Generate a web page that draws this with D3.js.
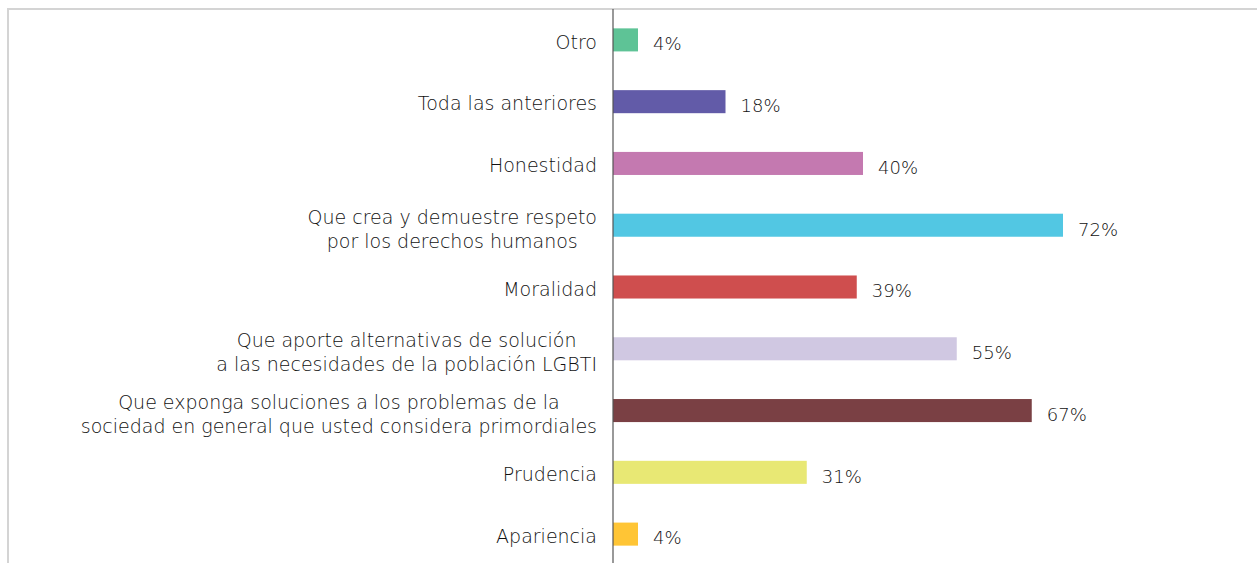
<!DOCTYPE html>
<html>
<head>
<meta charset="utf-8">
<script src="https://cdn.jsdelivr.net/npm/d3@7"></script>
<style>
  html, body { margin: 0; padding: 0; background: #fff; }
  svg { display: block; }
</style>
</head>
<body>
<svg id="chart"></svg>
<script>
// categories, top to bottom (each entry is the lines of its label)
const categories = [
  ["Otro"],
  ["Toda las anteriores"],
  ["Honestidad"],
  ["Que crea y demuestre respeto", "por los derechos humanos"],
  ["Moralidad"],
  ["Que aporte alternativas de solución", "a las necesidades de la población LGBTI"],
  ["Que exponga soluciones a los problemas de la", "sociedad en general que usted considera primordiales"],
  ["Prudencia"],
  ["Apariencia"]
];
const values = [4, 18, 40, 72, 39, 55, 67, 31, 4];
const colors = ["#5ec396", "#625ba8", "#c479b0", "#52c7e3", "#cf4e4e", "#d0c8e2", "#7a4044", "#e8e874", "#ffc535"];

const width = 1257;
const height = 563;
const axisX = 613;
const font = "'DejaVu Sans', sans-serif";

const svg = d3.select("#chart").attr("width", width).attr("height", height);

const ids = categories.map((_, i) => i);
const y = d3.scaleBand().domain(ids).range([9, 565]).paddingInner(0.627).paddingOuter(0.3135);
const x = d3.scaleLinear().domain([0, 100]).range([axisX, axisX + 625]);

// frame lines (cropped border of the figure box)
svg.append("line").attr("x1", 7).attr("x2", width).attr("y1", 9).attr("y2", 9)
  .attr("stroke", "#d4d4d4").attr("stroke-width", 2);
svg.append("line").attr("x1", 8).attr("x2", 8).attr("y1", 9).attr("y2", height)
  .attr("stroke", "#d4d4d4").attr("stroke-width", 2);

svg.selectAll("rect.bar").data(values).join("rect")
  .attr("class", "bar")
  .attr("x", x(0))
  .attr("y", (_, i) => y(i))
  .attr("width", d => x(d) - x(0))
  .attr("height", y.bandwidth())
  .attr("fill", (_, i) => colors[i]);

// category axis line
svg.append("line").attr("x1", axisX).attr("x2", axisX).attr("y1", 9).attr("y2", height)
  .attr("stroke", "#555").attr("stroke-width", 1.2);

// value labels
svg.selectAll("text.val").data(values).join("text")
  .attr("class", "val")
  .attr("x", d => x(d) + 15)
  .attr("y", (_, i) => y(i) + y.bandwidth() / 2 + 4)
  .attr("dy", "0.35em")
  .attr("font-family", font).attr("font-size", 18).attr("font-weight", 300).attr("fill", "#111")
  .text(d => d + "%");

// category labels, lines centred inside a right-aligned block
const lineH = 24;
const right = 597;
categories.forEach((lines, i) => {
  const g = svg.append("g");
  const cy = y(i) + y.bandwidth() / 2 + (lines.length > 1 ? 4 : 2);
  const texts = lines.map((t, k) => g.append("text")
    .attr("y", cy + (k - (lines.length - 1) / 2) * lineH)
    .attr("dy", "0.35em")
    .attr("font-family", font).attr("font-size", 19).attr("font-weight", 300).attr("fill", "#111")
    .attr("text-anchor", "middle")
    .text(t));
  const maxW = d3.max(texts, t => t.node().getComputedTextLength());
  texts.forEach(t => t.attr("x", right - maxW / 2));
});
</script>
</body>
</html>
